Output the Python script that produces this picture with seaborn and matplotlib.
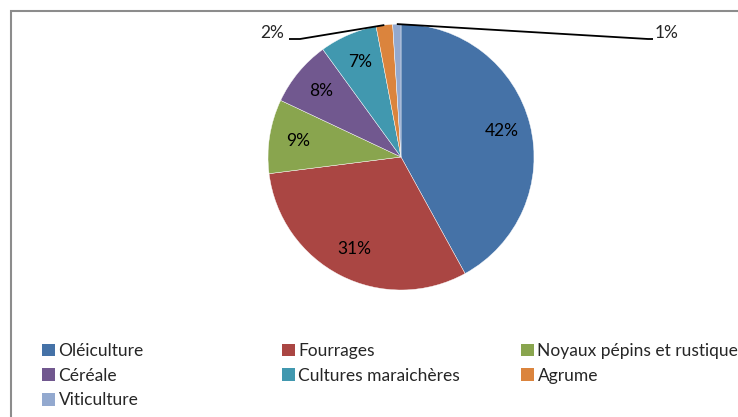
import numpy as np
import seaborn as sns
import matplotlib.pyplot as plt
from matplotlib.patches import Patch, Rectangle

sns.set_theme(style='white')
plt.rcParams['font.family'] = ['Lato', 'DejaVu Sans']

cultures = ['Oléiculture', 'Fourrages', 'Noyaux pépins et rustiques', 'Céréale',
            'Cultures maraichères', 'Agrume', 'Viticulture']
parts = [42, 31, 9, 8, 7, 2, 1]
couleurs = ['#4572A7', '#AA4643', '#89A54E', '#71588F', '#4198AF', '#DB843D', '#93A9CF']

W, H = 738, 417


def main():
    fig = plt.figure(figsize=(W / 100, H / 100), dpi=100)
    ax = fig.add_axes([0, 0, 1, 1])

    cx, cy, r = 401, H - 157, 133
    petits = {5, 6}

    def fmt(p):
        return '' if p < 3 else f'{p:.0f}%'

    wedges, _, autotexts = ax.pie(
        parts, colors=couleurs, startangle=90, counterclock=False,
        center=(cx, cy), radius=r, autopct=fmt, pctdistance=0.78,
        wedgeprops=dict(edgecolor='white', linewidth=0.3),
        textprops=dict(fontsize=12.5, color='black'),
    )

    # pie() change les limites : on les remet en pixels
    ax.set_xlim(0, W)
    ax.set_ylim(0, H)
    ax.set_aspect('equal')
    ax.axis('off')

    # cadre gris du graphique (coupe a droite et en bas)
    ax.add_patch(Rectangle((11, -10), 760, H - 11 + 10, fill=False,
                           edgecolor='#8c8c8c', linewidth=1.5))

    # etiquettes des petites parts avec lignes de rappel
    for i in petits:
        w = wedges[i]
        ang = np.deg2rad((w.theta1 + w.theta2) / 2)
        x0, y0 = cx + r * np.cos(ang), cy + r * np.sin(ang)
        txt = f'{parts[i]}%'
        if cultures[i] == 'Agrume':
            xs = [x0, 300, 289]
            ys = [y0, H - 39, H - 39]
            ax.text(284, H - 33, txt, ha='right', va='center', fontsize=12.5)
        else:
            xs = [x0, 648, 653]
            ys = [y0, H - 39, H - 39]
            ax.text(655, H - 33, txt, ha='left', va='center', fontsize=12.5)
        ax.plot(xs, ys, color='black', linewidth=1.3, solid_capstyle='butt')

    # legende en trois colonnes
    col_x = [42, 282, 521]
    for c in range(3):
        idx = list(range(c, len(cultures), 3))
        handles = [Patch(facecolor=couleurs[i], edgecolor='none') for i in idx]
        fig.legend(handles, [cultures[i] for i in idx], loc='upper left',
                   bbox_to_anchor=(col_x[c], H - 343), bbox_transform=ax.transData,
                   frameon=False, fontsize=12.5, handlelength=0.75, handleheight=0.75,
                   handletextpad=0.2, labelspacing=0.5, borderpad=0, borderaxespad=0)

    fig.savefig('out.png', dpi=100)
    plt.close(fig)


if __name__ == '__main__':
    main()
